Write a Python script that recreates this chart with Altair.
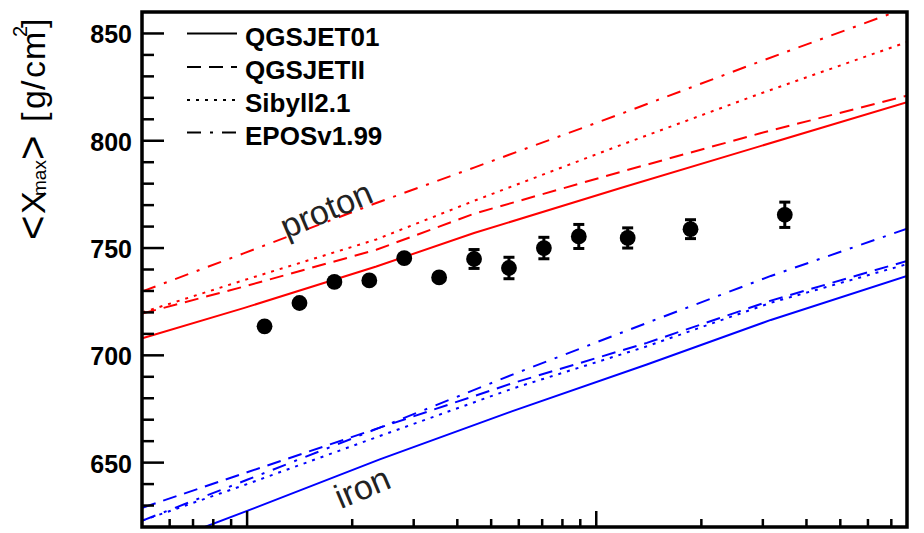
import altair as alt
import numpy as np
import pandas as pd

# ---- measured <Xmax> per energy bin (lg(E/eV)) ----
lg_data = [18.05, 18.15, 18.25, 18.35, 18.45, 18.55, 18.65, 18.75, 18.85, 18.95, 19.09, 19.27, 19.54]
xmax_data = [713.5, 724.4, 734.2, 734.9, 745.3, 736.3, 744.9, 740.7, 750.0, 755.4, 754.7, 758.8, 765.5]
xmax_err = [1.5, 1.5, 1.5, 1.5, 1.5, 1.5, 4.4, 5.0, 5.0, 5.6, 4.7, 4.4, 5.9]

# ---- air-shower simulation predictions ----
lg_proton = [17.70, 17.99, 18.37, 18.65, 19.07, 19.47, 19.89]
p_qgsjet01 = [708.0, 722.0, 741.4, 757.0, 778.0, 797.5, 818.0]
p_qgsjetII = [719.5, 732.0, 749.2, 766.0, 785.5, 803.5, 821.0]
p_sibyll = [720.0, 735.0, 754.0, 772.0, 798.0, 822.0, 846.0]
p_epos = [729.8, 747.5, 771.0, 787.5, 812.5, 837.0, 862.0]

lg_iron = [17.70, 18.00, 18.38, 18.76, 19.145, 19.50, 19.89]
fe_qgsjet01 = [609.0, 627.5, 651.5, 674.0, 695.7, 716.5, 737.0]
fe_qgsjetII = [629.0, 645.5, 666.3, 687.0, 705.8, 725.5, 744.0]
fe_sibyll = [623.0, 640.0, 662.4, 684.5, 704.2, 724.5, 742.5]
fe_epos = [623.0, 642.0, 666.3, 691.0, 715.1, 737.0, 759.0]

models = ["QGSJET01", "QGSJETII", "Sibyll2.1", "EPOSv1.99"]

# ---- axis ticks ----
y_major = [650, 700, 750, 800, 850]
y_minor = [v for v in range(630, 860, 10) if v not in y_major]
decades = [17, 18, 19]
minor_mult = [2, 3, 4, 5, 6, 7, 8, 9]

X_LO, X_HI = np.log10(5e17), 19.89
Y_LO, Y_HI = 620, 860
x_major = [18.0, 19.0]
x_minor = [d + np.log10(m) for d in decades for m in minor_mult
           if X_LO < d + np.log10(m) < X_HI]

W, H = 765, 515
FONT = "Liberation Sans"
RED, BLUE = "#ff0000", "#0000ff"
dash_of = {
    "QGSJET01": None,
    "QGSJETII": [14, 8],
    "Sibyll2.1": [3, 6],
    "EPOSv1.99": [14, 9, 3, 9],
}

x_scale = alt.Scale(domain=[X_LO, X_HI], nice=False, zero=False)
y_scale = alt.Scale(domain=[Y_LO, Y_HI], nice=False, zero=False)


def xq(field):
    return alt.X(field, type="quantitative", scale=x_scale, axis=None)


def yq(field):
    return alt.Y(field, type="quantitative", scale=y_scale, axis=None)


one = pd.DataFrame({"k": [0]})
layers = []

# simulation curves
curves = [
    (lg_proton, p_qgsjet01, "QGSJET01", RED),
    (lg_proton, p_qgsjetII, "QGSJETII", RED),
    (lg_proton, p_sibyll, "Sibyll2.1", RED),
    (lg_proton, p_epos, "EPOSv1.99", RED),
    (lg_iron, fe_qgsjet01, "QGSJET01", BLUE),
    (lg_iron, fe_qgsjetII, "QGSJETII", BLUE),
    (lg_iron, fe_sibyll, "Sibyll2.1", BLUE),
    (lg_iron, fe_epos, "EPOSv1.99", BLUE),
]
for xs, ys, name, col in curves:
    kw = dict(color=col, strokeWidth=2, clip=True)
    if dash_of[name]:
        kw["strokeDash"] = dash_of[name]
    layers.append(
        alt.Chart(pd.DataFrame({"lg": xs, "x": ys}))
        .mark_line(**kw)
        .encode(x=xq("lg"), y=yq("x"))
    )

# data points with error bars
pts = pd.DataFrame({"lg": lg_data, "xmax": xmax_data, "err": xmax_err})
pts["lo"] = pts["xmax"] - pts["err"]
pts["hi"] = pts["xmax"] + pts["err"]
base = alt.Chart(pts)
layers.append(base.mark_rule(color="black", strokeWidth=3).encode(x=xq("lg"), y=yq("lo"), y2="hi"))
layers.append(base.mark_tick(orient="horizontal", color="black", size=11, thickness=3, opacity=1)
              .encode(x=xq("lg"), y=yq("lo")))
layers.append(base.mark_tick(orient="horizontal", color="black", size=11, thickness=3, opacity=1)
              .encode(x=xq("lg"), y=yq("hi")))
layers.append(base.mark_circle(size=250, color="black", opacity=1).encode(x=xq("lg"), y=yq("xmax")))

# inward ticks
layers.append(alt.Chart(pd.DataFrame({"v": y_major})).mark_rule(color="black", strokeWidth=2.5)
              .encode(y=yq("v"), x=alt.value(0), x2=alt.value(22)))
layers.append(alt.Chart(pd.DataFrame({"v": y_minor})).mark_rule(color="black", strokeWidth=2.5)
              .encode(y=yq("v"), x=alt.value(0), x2=alt.value(12)))
layers.append(alt.Chart(pd.DataFrame({"v": x_major})).mark_rule(color="black", strokeWidth=2.5)
              .encode(x=xq("v"), y=alt.value(H), y2=alt.value(H - 16)))
layers.append(alt.Chart(pd.DataFrame({"v": x_minor})).mark_rule(color="black", strokeWidth=2.5)
              .encode(x=xq("v"), y=alt.value(H), y2=alt.value(H - 8)))

# y tick labels
layers.append(
    alt.Chart(pd.DataFrame({"v": y_major}))
    .mark_text(align="right", baseline="middle", dy=2, fontSize=25, fontWeight="bold",
               font=FONT, color="black")
    .encode(y=yq("v"), x=alt.value(-10), text=alt.Text("v:Q", format="d"))
)

# frame
layers.append(
    alt.Chart(one).mark_rect(fillOpacity=0, stroke="black", strokeWidth=3.5)
    .encode(x=alt.value(0), x2=alt.value(W), y=alt.value(0), y2=alt.value(H))
)

# legend
row_y = [21.5, 55, 88, 120.5]
for name, ry in zip(models, row_y):
    kw = dict(color="black", strokeWidth=2)
    if dash_of[name]:
        kw["strokeDash"] = dash_of[name]
    layers.append(alt.Chart(one).mark_rule(**kw)
                  .encode(x=alt.value(45), x2=alt.value(95), y=alt.value(ry)))
    layers.append(alt.Chart(one).mark_text(text=name, align="left", baseline="alphabetic",
                                           fontSize=26, fontWeight="bold", font=FONT, color="black")
                  .encode(x=alt.value(103), y=alt.value(ry + 12)))

# curve annotations
layers.append(alt.Chart(one).mark_text(text="proton", angle=337, fontSize=34, font=FONT,
                                       color="#222222", align="center", baseline="middle")
              .encode(x=alt.value(185), y=alt.value(199)))
layers.append(alt.Chart(one).mark_text(text="iron", angle=337, fontSize=34, font=FONT,
                                       color="#222222", align="center", baseline="middle")
              .encode(x=alt.value(221), y=alt.value(477)))

# rotated y-axis title: <X_max> [g/cm^2]
title_parts = [
    ("<", 240, 47, 42),
    ("X", 214, 45, 34),
    ("max", 196, 46, 19),
    (">", 160, 47, 42),
    ("[", 122, 45, 34),
    ("g", 109, 45, 34),
    ("/", 90, 45, 34),
    ("c", 78, 45, 34),
    ("m", 60, 45, 34),
    ("2", 37, 27, 20),
    ("]", 28, 45, 34),
]
for txt, ya, xa, fs in title_parts:
    layers.append(alt.Chart(one).mark_text(text=txt, angle=270, align="left", baseline="alphabetic",
                                           fontSize=fs, font=FONT, color="black")
                  .encode(x=alt.value(xa - 142), y=alt.value(ya - 12)))

chart = (
    alt.layer(*layers)
    .properties(width=W, height=H, autosize=alt.AutoSizeParams(type="none"),
                padding={"left": 142, "top": 12, "right": 17, "bottom": 6})
    .configure_view(stroke=None)
)
chart.save("out.html", embed_options={"renderer": "svg", "actions": False})
